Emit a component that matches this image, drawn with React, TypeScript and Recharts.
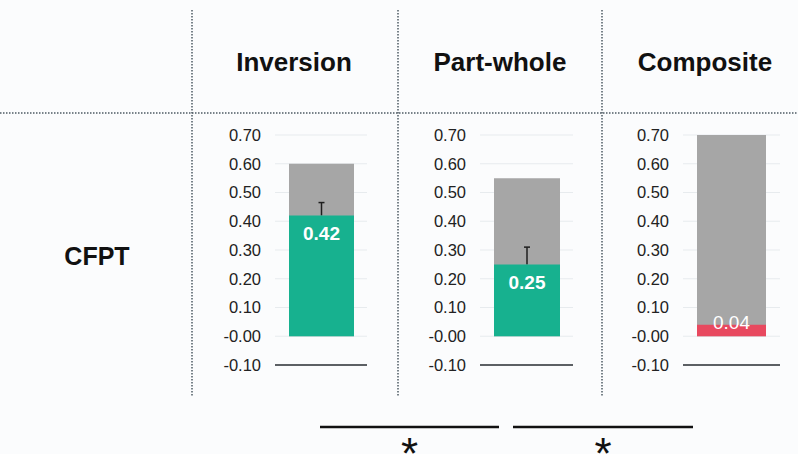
import { BarChart, Bar, XAxis, YAxis, CartesianGrid, LabelList, ReferenceLine } from 'recharts';

const conditions = ['Inversion', 'Part-whole', 'Composite'];
const rowLabel = 'CFPT';
const cfptScores = [0.42, 0.25, 0.04];
const ceilingScores = [0.6, 0.55, 0.7];
const errorSize = [0.045, 0.06, 0];
const barColors = ['#17b18f', '#17b18f', '#e8495f'];
const yTicks = [-0.1, 0, 0.1, 0.2, 0.3, 0.4, 0.5, 0.6, 0.7];

const FONT = '"Liberation Sans", Arial, Helvetica, sans-serif';

// chart placement for each panel (layout only)
const panelLeft = [200, 405, 608];
const panelWidth = [175, 176, 180];
const barWidth = [65, 66, 69];

function formatTick(v: number): string {
  if (Math.abs(v) < 1e-9) return '-0.00';
  return v.toFixed(2);
}

// upper half of the error bar; the lower half sits behind the coloured bar
function ErrorShape(props: any) {
  const { x, y, width, height, payload } = props;
  if (!payload || !payload.err || !height) return null;
  const cx = x + width / 2;
  const top = y - (height * payload.err) / payload.score;
  return (
    <g stroke="#1e1e1e" strokeWidth={1.5}>
      <line x1={cx} x2={cx} y1={y} y2={top} />
      <line x1={cx - 3} x2={cx + 3} y1={top} y2={top} />
    </g>
  );
}

function ValueLabel(props: any) {
  const { x, y, width, value, bold } = props;
  return (
    <text
      x={x + width / 2}
      y={bold ? y + 18 : y - 2}
      textAnchor="middle"
      dominantBaseline="central"
      fill="#ffffff"
      fontFamily={FONT}
      fontWeight={bold ? 700 : 400}
      fontSize={19}
    >
      {Number(value).toFixed(2)}
    </text>
  );
}

function Panel({ i }: { i: number }) {
  const data = [
    {
      name: conditions[i],
      ceiling: ceilingScores[i],
      score: cfptScores[i],
      err: errorSize[i],
    },
  ];
  const bold = cfptScores[i] > 0.1;
  return (
    <div style={{ position: 'absolute', left: panelLeft[i], top: 120 }}>
      <BarChart
        width={panelWidth[i]}
        height={262}
        data={data}
        margin={{ top: 15, right: 8, left: 0, bottom: 17 }}
      >
        <CartesianGrid vertical={false} stroke="#e7ebee" />
        <XAxis xAxisId="back" dataKey="name" hide />
        <XAxis xAxisId="err" dataKey="name" hide />
        <XAxis xAxisId="front" dataKey="name" hide />
        <YAxis
          width={75}
          domain={[-0.1, 0.7]}
          ticks={yTicks}
          interval={0}
          tickFormatter={formatTick}
          axisLine={false}
          tickLine={false}
          tickSize={0}
          tickMargin={14}
          tick={{ fontSize: 16.5, fill: '#222222', fontFamily: FONT }}
        />
        <ReferenceLine xAxisId="front" y={-0.1} stroke="#2a2f33" strokeWidth={1.6} />
        <Bar
          xAxisId="back"
          dataKey="ceiling"
          fill="#a6a6a6"
          barSize={barWidth[i]}
          isAnimationActive={false}
        />
        <Bar
          xAxisId="err"
          dataKey="score"
          barSize={barWidth[i]}
          shape={<ErrorShape />}
          isAnimationActive={false}
        />
        <Bar
          xAxisId="front"
          dataKey="score"
          fill={barColors[i]}
          barSize={barWidth[i]}
          isAnimationActive={false}
        >
          <LabelList dataKey="score" content={(p: any) => <ValueLabel {...p} bold={bold} />} />
        </Bar>
      </BarChart>
    </div>
  );
}

const headerCenters = [294, 500, 705];
const sigLines = [
  [320, 499],
  [513, 693],
];

export default function App() {
  return (
    <div
      style={{
        position: 'absolute',
        left: 0,
        top: 0,
        width: 798,
        height: 454,
        background: '#fbfcfd',
        overflow: 'hidden',
        fontFamily: FONT,
      }}
    >
      <svg width={798} height={454} style={{ position: 'absolute', left: 0, top: 0 }}>
        {[192, 398, 602].map((x) => (
          <line key={x} x1={x} x2={x} y1={10} y2={396} stroke="#4d5a63" strokeWidth={1.5} strokeDasharray="1.5 1.5" />
        ))}
        <line x1={0} x2={798} y1={113} y2={113} stroke="#4d5a63" strokeWidth={1.5} strokeDasharray="1.5 1.5" />
        {conditions.map((c, i) => (
          <text
            key={c}
            x={headerCenters[i]}
            y={62}
            textAnchor="middle"
            dominantBaseline="central"
            fontFamily={FONT}
            fontWeight={700}
            fontSize={26}
            fill="#111"
          >
            {c}
          </text>
        ))}
        <text
          x={97}
          y={256}
          textAnchor="middle"
          dominantBaseline="central"
          fontFamily={FONT}
          fontWeight={700}
          fontSize={25}
          fill="#111"
        >
          {rowLabel}
        </text>
        {sigLines.map(([a, b]) => (
          <g key={a}>
            <line x1={a} x2={b} y1={427} y2={427} stroke="#111" strokeWidth={2.5} />
            <text x={(a + b) / 2} y={469} textAnchor="middle" fontFamily={FONT} fontSize={44} fill="#111">
              *
            </text>
          </g>
        ))}
      </svg>
      {conditions.map((c, i) => (
        <Panel key={c} i={i} />
      ))}
    </div>
  );
}
